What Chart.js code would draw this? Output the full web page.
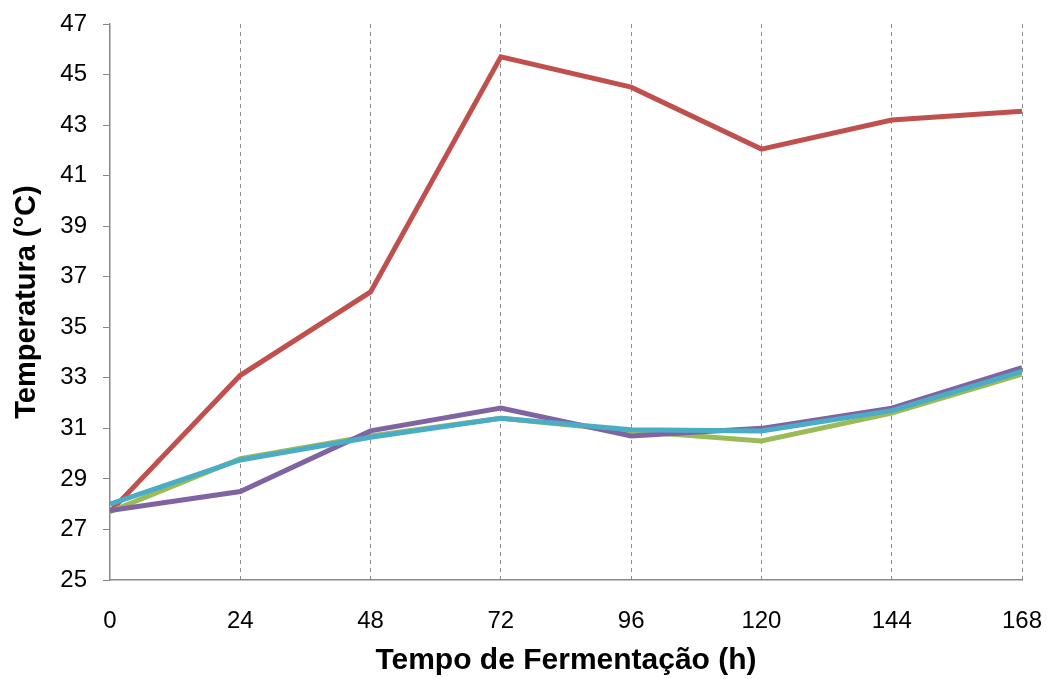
<!DOCTYPE html>
<html lang="pt">
<head>
    <meta charset="UTF-8">
    <title>Temperatura x Tempo de Fermentação</title>
    <script src="https://cdn.jsdelivr.net/npm/chart.js"></script>
    <style>
        body {
            margin: 0;
            padding: 0;
            background-color: #ffffff;
        }
        .wrap {
            width: 1047px;
            height: 679px;
            position: relative;
        }
    </style>
</head>
<body>
    <div class="wrap"><canvas id="tempChart"></canvas></div>

    <script>
        // tempo de fermentação (h)
        const hours = [0, 24, 48, 72, 96, 120, 144, 168];

        // temperatura (°C) por série
        const redSeries    = [27.7, 33.1, 36.4, 45.7, 44.5, 42.05, 43.2, 43.55];
        const greenSeries  = [27.7, 29.8, 30.7, 31.4, 30.9, 30.5, 31.6, 33.15];
        const purpleSeries = [27.75, 28.5, 30.9, 31.8, 30.7, 31.0, 31.8, 33.4];
        const cyanSeries   = [28.0, 29.75, 30.65, 31.4, 30.95, 30.9, 31.7, 33.25];

        const yTicks = [25, 27, 29, 31, 33, 35, 37, 39, 41, 43, 45, 47];

        const FONT = 'Liberation Sans, Arial, sans-serif';

        function toPoints(values) {
            return hours.map((h, i) => ({ x: h, y: values[i] }));
        }

        // como no Excel: a última série fica por cima
        function series(values, color, order) {
            return {
                data: toPoints(values),
                borderColor: color,
                backgroundColor: color,
                borderWidth: 5,
                pointRadius: 0,
                tension: 0,
                fill: false,
                order: order
            };
        }

        const ctx = document.getElementById('tempChart').getContext('2d');
        new Chart(ctx, {
            type: 'line',
            data: {
                datasets: [
                    series(redSeries, '#C0504D', 4),
                    series(greenSeries, '#9BBB59', 3),
                    series(purpleSeries, '#8064A2', 2),
                    series(cyanSeries, '#4BACC6', 1)
                ]
            },
            options: {
                responsive: true,
                maintainAspectRatio: false,
                animation: false,
                layout: { padding: { top: 24, right: 25, left: 0, bottom: 0 } },
                plugins: {
                    legend: { display: false },
                    tooltip: { enabled: false }
                },
                scales: {
                    x: {
                        type: 'linear',
                        min: 0,
                        max: 168,
                        afterBuildTicks: axis => { axis.ticks = hours.map(v => ({ value: v })); },
                        afterFit: axis => {
                            axis.height = 99;
                            axis.paddingLeft = 0;
                            axis.paddingRight = 0;
                        },
                        border: { display: true, color: '#888888', width: 1.5, dash: [4, 4] },
                        grid: {
                            drawTicks: false,
                            color: c => c.tick && c.tick.value === 0 ? 'rgba(0,0,0,0)' : '#8f8f8f',
                            lineWidth: 1
                        },
                        ticks: {
                            padding: 27,
                            color: '#000000',
                            font: { family: FONT, size: 24 }
                        },
                        title: {
                            display: true,
                            text: 'Tempo de Fermentação (h)',
                            color: '#000000',
                            padding: { top: 0, bottom: 0 },
                            font: { family: FONT, size: 30, weight: 'bold' }
                        }
                    },
                    y: {
                        min: 25,
                        max: 47,
                        afterBuildTicks: axis => { axis.ticks = yTicks.map(v => ({ value: v })); },
                        afterFit: axis => {
                            axis.width = 110;
                            axis.paddingTop = 0;
                            axis.paddingBottom = 0;
                        },
                        border: { display: true, color: '#888888', width: 1.5 },
                        grid: {
                            drawOnChartArea: false,
                            drawTicks: true,
                            tickLength: 7,
                            color: '#888888'
                        },
                        ticks: {
                            padding: 16,
                            color: '#000000',
                            font: { family: FONT, size: 24 }
                        },
                        title: {
                            display: true,
                            text: 'Temperatura (°C)',
                            color: '#000000',
                            padding: { top: 10, bottom: 0 },
                            font: { family: FONT, size: 29, weight: 'bold' }
                        }
                    }
                }
            }
        });
    </script>
</body>
</html>
